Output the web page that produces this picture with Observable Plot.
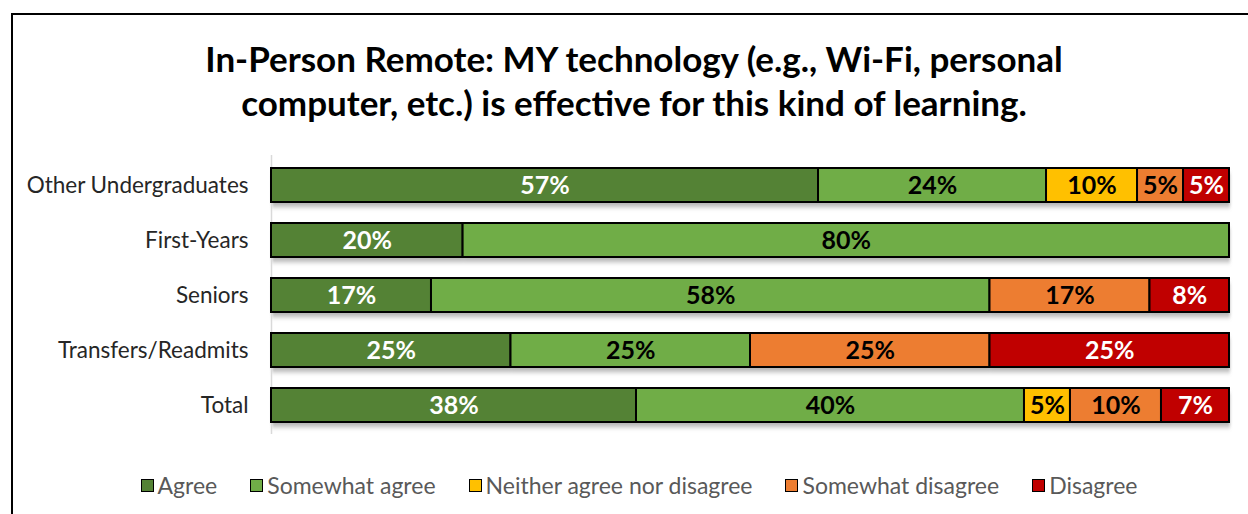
<!DOCTYPE html>
<html>
<head>
<meta charset="utf-8">
<script src="https://cdn.jsdelivr.net/npm/d3@7"></script>
<script src="https://cdn.jsdelivr.net/npm/@observablehq/plot@0.6"></script>
<style>
  html, body { margin: 0; padding: 0; background: #fff; }
  body { width: 1248px; height: 514px; overflow: hidden; position: relative; font-family: Lato, "Open Sans", sans-serif; }
  #frame { position: absolute; left: 11px; top: 13px; width: 1300px; height: 600px; border: 2px solid #000; box-sizing: border-box; pointer-events: none; }
  #title { height: 140px; box-sizing: border-box; padding-top: 36px; text-align: center; font-weight: 700; font-size: 35px; line-height: 44px; color: #000; padding-left: 20px; }
  #chart svg { display: block; }
  #legend { display: flex; justify-content: center; align-items: center; gap: 33px; padding-top: 22px; font-size: 23px; line-height: 26px; color: #595959; padding-left: 30px; }
  .item { display: flex; align-items: center; gap: 4px; }
  .sw { width: 11px; height: 11px; border: 1.5px solid #000; }
</style>
</head>
<body>
<div id="frame"></div>
<div id="title">In-Person Remote: MY technology (e.g., Wi-Fi, personal<br>computer, etc.) is effective for this kind of learning.</div>
<div id="chart"></div>
<div id="legend"></div>
<script>
const groups = ["Other Undergraduates", "First-Years", "Seniors", "Transfers/Readmits", "Total"];
const categories = ["Agree", "Somewhat agree", "Neither agree nor disagree", "Somewhat disagree", "Disagree"];
const colors = ["#548235", "#70AD47", "#FFC000", "#ED7D31", "#C00000"];
const labelColors = ["#fff", "#000", "#000", "#000", "#fff"];
// percent per group, in category order
const otherUndergrad = [57.1, 23.8, 9.5, 4.8, 4.8];
const firstYears = [20, 80, 0, 0, 0];
const seniors = [16.7, 58.3, 0, 16.7, 8.3];
const transfers = [25, 25, 0, 25, 25];
const total = [38.1, 40.5, 4.8, 9.5, 7.1];
// displayed labels
const otherUndergradLabels = ["57%", "24%", "10%", "5%", "5%"];
const firstYearsLabels = ["20%", "80%", "", "", ""];
const seniorsLabels = ["17%", "58%", "", "17%", "8%"];
const transfersLabels = ["25%", "25%", "", "25%", "25%"];
const totalLabels = ["38%", "40%", "5%", "10%", "7%"];

const series = [otherUndergrad, firstYears, seniors, transfers, total];
const seriesLabels = [otherUndergradLabels, firstYearsLabels, seniorsLabels, transfersLabels, totalLabels];

const data = [];
groups.forEach((g, gi) => {
  categories.forEach((c, ci) => {
    const v = series[gi][ci];
    if (v > 0) data.push({group: g, category: c, value: v, label: seriesLabels[gi][ci], ci});
  });
});

const stack = (o) => Plot.stackX({x: "value", y: "group", z: "category", ...o});

const plot = Plot.plot({
  width: 1248,
  height: 310,
  marginLeft: 271,
  marginRight: 19,
  marginTop: 7,
  marginBottom: 6,
  style: {fontFamily: "Lato, 'Open Sans', sans-serif", background: "transparent", fontSize: "22.5px"},
  x: {domain: [0, 100], axis: null},
  y: {domain: groups, padding: 0.38, label: null, tickSize: 0, tickPadding: 23},
  color: {domain: categories, range: colors},
  marks: [
    Plot.rectX(data, stack({fill: "#777", fillOpacity: 0.55, dy: 5, dx: 1})),
    Plot.ruleX([0], {stroke: "#d9d9d9", strokeWidth: 1.5, insetTop: 8, insetBottom: 10}),
    Plot.rectX(data, stack({fill: "category", stroke: "#000", strokeWidth: 2})),
    Plot.text(data, stack({text: d => labelColors[d.ci] === "#fff" ? d.label : "", fill: "#fff", fontWeight: 700, fontSize: 25})),
    Plot.text(data, stack({text: d => labelColors[d.ci] === "#000" ? d.label : "", fill: "#000", fontWeight: 700, fontSize: 25}))
  ]
});

// blur filter for shadows
const svg = d3.select(plot);
const defs = svg.insert("defs", ":first-child");
defs.append("filter").attr("id", "shadow").attr("x", "-5%").attr("y", "-50%").attr("width", "110%").attr("height", "200%")
  .append("feGaussianBlur").attr("stdDeviation", "1.5 2.5");
svg.selectAll("g[aria-label='rect']").filter((d, i) => i === 0).attr("filter", "url(#shadow)");
svg.selectAll("g[aria-label='y-axis tick label'], g[aria-label='y-axis']").attr("font-size", 22.5).attr("fill", "#262626");

document.getElementById("chart").appendChild(plot);

const legend = d3.select("#legend");
categories.forEach((c, i) => {
  const it = legend.append("div").attr("class", "item");
  it.append("div").attr("class", "sw").style("background", colors[i]);
  it.append("span").text(c);
});
</script>
</body>
</html>
